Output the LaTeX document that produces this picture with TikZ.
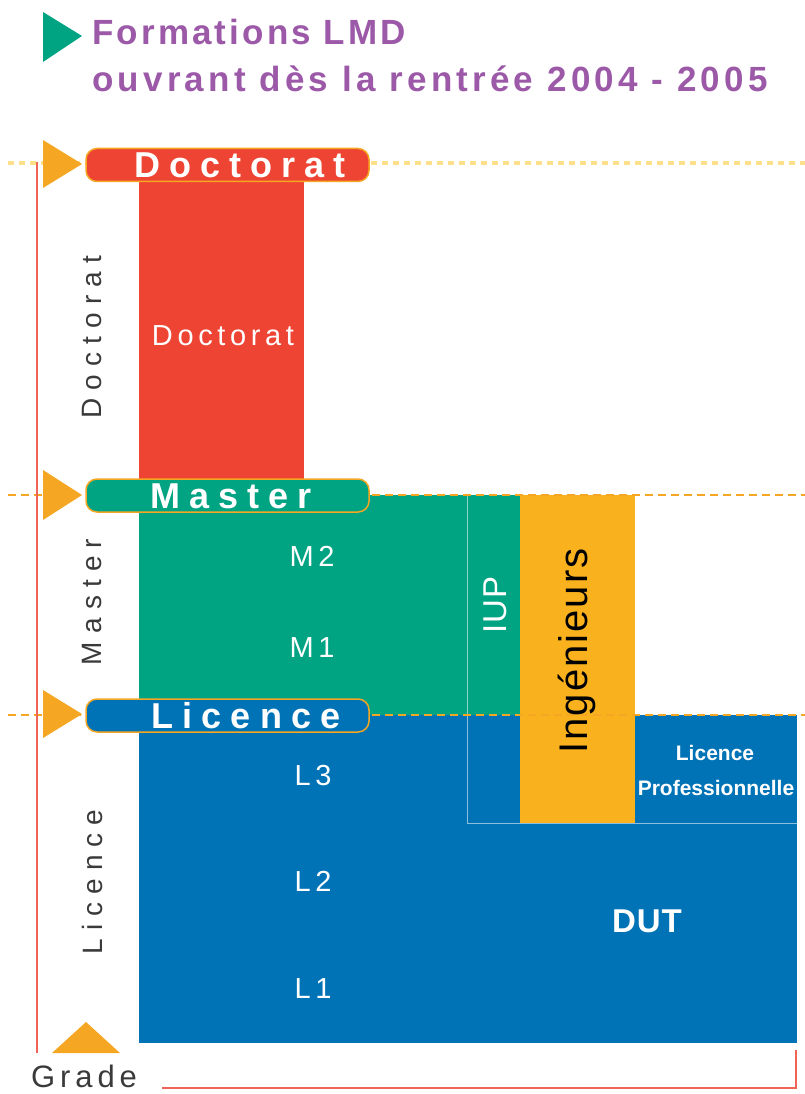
\documentclass[tikz,border=0pt]{standalone}
\usepackage{fontspec}
\setmainfont{Liberation Sans}
\newfontfamily\titlefont[LetterSpace=9]{Liberation Sans}
\newfontfamily\barfont[LetterSpace=25]{Liberation Sans}
\newfontfamily\sidefont[LetterSpace=29]{Liberation Sans}
\newfontfamily\yearfont[LetterSpace=16]{Liberation Sans}
\newfontfamily\plainfont[LetterSpace=3]{Liberation Sans}

\definecolor{lmdred}{HTML}{EE4433}
\definecolor{lmdgreen}{HTML}{00A382}
\definecolor{lmdblue}{HTML}{0072B6}
\definecolor{lmdyellow}{HTML}{F9B21E}
\definecolor{lmdorange}{HTML}{F5A623}
\definecolor{lmddot}{HTML}{FFE08A}
\definecolor{lmdpurple}{HTML}{9B59A8}
\definecolor{lmdaxis}{HTML}{F06458}
\definecolor{lmdgray}{HTML}{3A3A3A}

\begin{document}
\begin{tikzpicture}[
  x=1pt, y=-1pt,
  levelbar/.style={draw=lmdorange,line width=1.5pt,rounded corners=11pt,minimum width=283pt,minimum height=33pt,inner sep=0pt},
  bartext/.style={font=\barfont\bfseries\fontsize{36}{36}\selectfont,text=white,inner sep=0pt},
  sidetext/.style={font=\sidefont\fontsize{28}{28}\selectfont,text=lmdgray,rotate=90,inner sep=0pt},
  yeartext/.style={font=\yearfont\fontsize{29}{29}\selectfont,text=white,inner sep=0pt},
  titletext/.style={font=\titlefont\bfseries\fontsize{35}{35}\selectfont,text=lmdpurple,inner sep=0pt,anchor=base west},
  dashline/.style={draw=lmdorange,line width=2pt,dash pattern=on 8pt off 5pt},
  thinline/.style={draw=white,draw opacity=0.55,line width=1pt}
]
  \useasboundingbox (0,0) rectangle (805,1094);

  % title
  \fill[lmdgreen] (43,12) -- (82,36) -- (43,62) -- cycle;
  \node[titletext] (title1) at (92,45) {Formations LMD};
  \node[titletext] (title2) at (92,92) {\addfontfeature{LetterSpace=12}ouvrant dès la rentrée 2004 - 2005};

  % blocks
  \fill[lmdred] (139,182) rectangle (304,495);
  \fill[lmdgreen] (139,495) rectangle (520,715);
  \fill[lmdblue] (139,715) rectangle (797,1043);
  \fill[lmdyellow] (520,495) rectangle (635,823);
  \draw[thinline] (467,495) -- (467,823) -- (797,823);

  % level lines
  \draw[draw=lmddot,line width=3.5pt,dash pattern=on 6pt off 5pt] (8,163) -- (805,163);
  \draw[dashline] (8,495) -- (805,495);
  \draw[dashline] (8,715) -- (805,715);

  % grade axis
  \draw[lmdaxis,line width=2pt] (37,162) -- (37,1053);
  \draw[lmdaxis,line width=2pt] (162,1088) -- (796,1088) -- (796,1050);
  \node[font=\yearfont\fontsize{31}{31}\selectfont,text=lmdgray,inner sep=0pt,anchor=base] (grade) at (84,1087) {Grade};

  % markers
  \fill[lmdorange] (43,140) -- (82,164) -- (43,188) -- cycle;
  \fill[lmdorange] (43,470) -- (82,495) -- (43,520) -- cycle;
  \fill[lmdorange] (43,690) -- (82,714) -- (43,738) -- cycle;
  \fill[lmdorange] (52,1053) -- (86,1022) -- (120,1053) -- cycle;

  % level bars
  \node[levelbar,fill=lmdred] (bardoc) at (227.5,165) {};
  \node[levelbar,fill=lmdgreen] (barmas) at (227.5,495.5) {};
  \node[levelbar,fill=lmdblue] (barlic) at (227.5,715.5) {};
  \node[bartext] (tdoc) at (240,165) {Doctorat};
  \node[bartext] (tmas) at (231,496) {Master};
  \node[bartext] (tlic) at (246,716) {Licence};

  % side labels
  \node[sidetext] (sdoc) at (92,337) {Doctorat};
  \node[sidetext] (smas) at (92,602) {Master};
  \node[sidetext] (slic) at (92,882) {Licence};

  % years
  \node[yeartext] (ydoc) at (223,336) {Doctorat};
  \node[yeartext] (m2) at (312,556) {M2};
  \node[yeartext] (m1) at (312,648) {M1};
  \node[yeartext] (l3) at (313,776) {L3};
  \node[yeartext] (l2) at (313,881) {L2};
  \node[yeartext] (l1) at (313,989) {L1};

  % other courses
  \node[font=\plainfont\fontsize{33}{33}\selectfont,text=white,rotate=90,inner sep=0pt] (iup) at (495,605) {IUP};
  \node[font=\plainfont\fontsize{40}{40}\selectfont,text=black,rotate=90,inner sep=0pt] (ing) at (577,651) {\addfontfeature{LetterSpace=5}Ingénieurs};
  \node[font=\bfseries\fontsize{21}{21}\selectfont,text=white,inner sep=0pt] (lp1) at (715,753) {Licence};
  \node[font=\bfseries\fontsize{21}{21}\selectfont,text=white,inner sep=0pt] (lp2) at (716,788) {Professionnelle};
  \node[font=\plainfont\bfseries\fontsize{33}{33}\selectfont,text=white,inner sep=0pt] (dut) at (647,921) {DUT};
\end{tikzpicture}
\end{document}
